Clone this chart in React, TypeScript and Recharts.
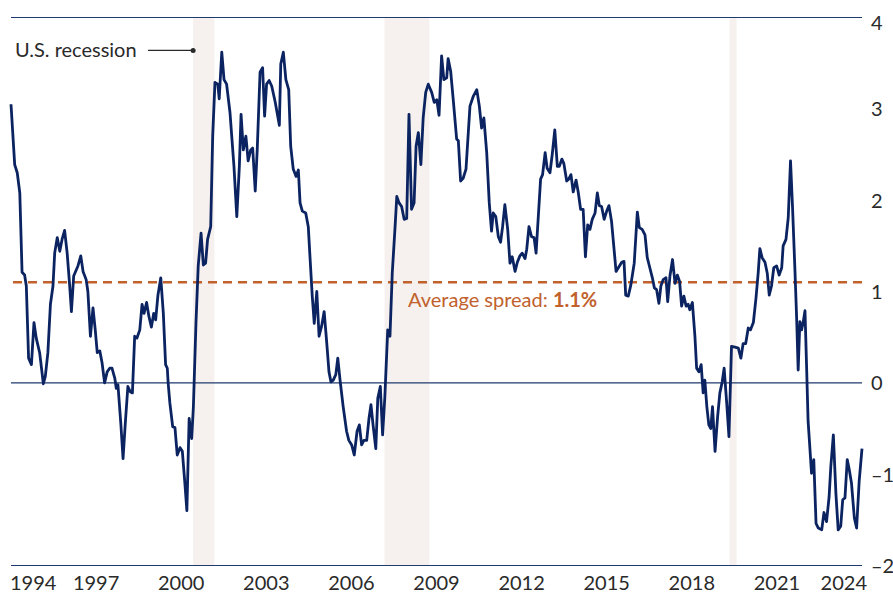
import {
  LineChart,
  Line,
  XAxis,
  YAxis,
  ReferenceArea,
  ReferenceLine,
  ReferenceDot,
} from "recharts";

// [year, spread %], grouped by period
const spread1994to1999: [number, number][] = [
  [1994.75, 3.05], [1994.88, 2.39], [1994.97, 2.3], [1995.06, 2.08], [1995.14, 1.21],
  [1995.23, 1.18], [1995.29, 1.06], [1995.37, 0.27], [1995.47, 0.2], [1995.56, 0.66],
  [1995.64, 0.49], [1995.76, 0.33], [1995.89, -0.01], [1995.96, 0.07], [1996.05, 0.33],
  [1996.14, 0.86], [1996.23, 1.06], [1996.29, 1.42], [1996.38, 1.59], [1996.47, 1.44],
  [1996.55, 1.57], [1996.64, 1.67], [1996.73, 1.42], [1996.82, 1.06], [1996.88, 0.78],
  [1996.96, 1.17], [1997.11, 1.28], [1997.21, 1.39], [1997.29, 1.22], [1997.4, 1.13],
  [1997.46, 1.0], [1997.55, 0.51], [1997.64, 0.82], [1997.72, 0.58], [1997.79, 0.33],
  [1997.88, 0.35], [1997.96, 0.22], [1998.05, 0.0], [1998.14, 0.12], [1998.23, 0.16],
  [1998.31, 0.16], [1998.41, 0.05], [1998.46, -0.06], [1998.52, -0.02], [1998.62, -0.44],
  [1998.7, -0.83], [1998.78, -0.44], [1998.87, -0.04], [1998.96, -0.1], [1999.03, -0.11],
  [1999.11, 0.51], [1999.19, 0.49], [1999.29, 0.58], [1999.37, 0.86], [1999.44, 0.76],
  [1999.53, 0.88], [1999.61, 0.73], [1999.7, 0.61], [1999.78, 0.76], [1999.85, 0.69],
  [1999.93, 0.96],
];

const spread2000to2004: [number, number][] = [
  [2000.03, 1.15], [2000.12, 0.76], [2000.2, 0.2], [2000.26, 0.16], [2000.29, 0.0],
  [2000.35, -0.22], [2000.45, -0.48], [2000.53, -0.49], [2000.61, -0.79], [2000.71, -0.71],
  [2000.79, -0.75], [2000.88, -1.1], [2000.95, -1.4], [2001.03, -0.39], [2001.12, -0.61],
  [2001.18, -0.26], [2001.27, 0.65], [2001.35, 1.28], [2001.45, 1.64], [2001.53, 1.29],
  [2001.61, 1.31], [2001.68, 1.57], [2001.79, 1.71], [2001.86, 2.7], [2001.94, 3.29],
  [2002.04, 3.27], [2002.09, 3.11], [2002.18, 3.62], [2002.26, 3.32], [2002.35, 3.27],
  [2002.47, 2.96], [2002.61, 2.37], [2002.71, 1.82], [2002.8, 2.37], [2002.86, 2.94],
  [2002.94, 2.55], [2003.03, 2.7], [2003.11, 2.43], [2003.2, 2.55], [2003.27, 2.57],
  [2003.36, 2.1], [2003.43, 2.55], [2003.53, 3.4], [2003.62, 3.45], [2003.69, 2.92],
  [2003.76, 3.27], [2003.85, 3.31], [2003.94, 3.25], [2004.06, 3.08], [2004.21, 2.82],
  [2004.26, 3.49], [2004.35, 3.62], [2004.44, 3.32], [2004.54, 3.21], [2004.61, 2.59],
  [2004.7, 2.34], [2004.8, 2.26], [2004.88, 2.33], [2004.94, 1.97],
];

const spread2005to2009: [number, number][] = [
  [2005.02, 1.88], [2005.14, 1.86], [2005.23, 1.71], [2005.29, 1.38], [2005.37, 0.95],
  [2005.44, 0.65], [2005.53, 1.0], [2005.61, 0.51], [2005.7, 0.62], [2005.79, 0.78],
  [2005.88, 0.44], [2005.96, 0.12], [2006.03, 0.01], [2006.11, 0.03], [2006.2, 0.09],
  [2006.27, 0.27], [2006.35, 0.03], [2006.46, -0.26], [2006.58, -0.53], [2006.66, -0.63],
  [2006.76, -0.68], [2006.85, -0.79], [2006.95, -0.53], [2007.03, -0.46], [2007.11, -0.68],
  [2007.19, -0.63], [2007.29, -0.63], [2007.37, -0.39], [2007.44, -0.24], [2007.52, -0.48],
  [2007.61, -0.72], [2007.68, -0.17], [2007.77, -0.04], [2007.85, -0.57], [2007.93, -0.15],
  [2008.03, 0.58], [2008.11, 0.51], [2008.19, 1.2], [2008.29, 1.71], [2008.35, 2.04],
  [2008.43, 1.97], [2008.52, 1.93], [2008.61, 1.79], [2008.7, 1.8], [2008.78, 2.94],
  [2008.87, 1.9], [2008.96, 1.97], [2009.03, 2.59], [2009.11, 2.74], [2009.2, 2.39],
  [2009.28, 2.9], [2009.37, 3.18], [2009.46, 3.27], [2009.58, 3.18], [2009.67, 3.07],
  [2009.76, 3.1], [2009.84, 2.93], [2009.93, 3.58],
];

const spread2010to2014: [number, number][] = [
  [2010.01, 3.32], [2010.11, 3.34], [2010.16, 3.55], [2010.25, 3.41], [2010.34, 3.1],
  [2010.46, 2.67], [2010.52, 2.65], [2010.6, 2.21], [2010.69, 2.24], [2010.79, 2.34],
  [2010.93, 3.03], [2011.05, 3.14], [2011.17, 3.21], [2011.26, 3.03], [2011.34, 2.79],
  [2011.42, 2.9], [2011.52, 2.52], [2011.61, 1.97], [2011.69, 1.66], [2011.75, 1.86],
  [2011.84, 1.82], [2011.93, 1.6], [2012.01, 1.54], [2012.08, 1.71], [2012.16, 1.95],
  [2012.26, 1.68], [2012.34, 1.31], [2012.42, 1.38], [2012.52, 1.22], [2012.6, 1.32],
  [2012.69, 1.39], [2012.77, 1.42], [2012.87, 1.36], [2012.93, 1.46], [2013.01, 1.71],
  [2013.1, 1.6], [2013.19, 1.59], [2013.26, 1.42], [2013.42, 2.23], [2013.49, 2.28],
  [2013.58, 2.52], [2013.65, 2.35], [2013.75, 2.3], [2013.83, 2.5], [2013.92, 2.77],
  [2014.01, 2.37], [2014.08, 2.37], [2014.17, 2.45], [2014.24, 2.4], [2014.34, 2.21],
  [2014.41, 2.23], [2014.49, 2.28], [2014.57, 2.09], [2014.67, 2.22], [2014.75, 2.08],
  [2014.83, 1.9], [2014.92, 1.9],
];

const spread2015to2019: [number, number][] = [
  [2015.0, 1.38], [2015.08, 1.73], [2015.16, 1.68], [2015.24, 1.79], [2015.34, 1.86],
  [2015.42, 2.08], [2015.49, 1.94], [2015.57, 1.93], [2015.66, 1.79], [2015.75, 1.88],
  [2015.83, 1.94], [2015.92, 1.77], [2016.08, 1.22], [2016.16, 1.26], [2016.28, 1.32],
  [2016.36, 1.33], [2016.42, 0.96], [2016.51, 0.95], [2016.6, 1.07], [2016.72, 1.31],
  [2016.83, 1.87], [2016.9, 1.7], [2017.0, 1.68], [2017.1, 1.62], [2017.18, 1.37],
  [2017.27, 1.26], [2017.36, 1.15], [2017.43, 1.04], [2017.51, 1.02], [2017.59, 0.87],
  [2017.66, 1.06], [2017.74, 1.13], [2017.84, 1.15], [2017.9, 0.89], [2017.98, 1.17],
  [2018.07, 1.35], [2018.16, 1.09], [2018.24, 1.18], [2018.32, 1.11], [2018.39, 0.84],
  [2018.47, 0.95], [2018.55, 0.84], [2018.62, 0.86], [2018.68, 0.8], [2018.77, 0.88],
  [2018.86, 0.51], [2018.92, 0.16], [2019.0, 0.12], [2019.08, 0.2], [2019.15, -0.11],
  [2019.21, 0.03], [2019.28, -0.26], [2019.35, -0.46], [2019.42, -0.5], [2019.48, -0.26],
  [2019.57, -0.75], [2019.66, -0.37], [2019.74, -0.11], [2019.82, 0.01], [2019.89, 0.16],
  [2019.98, -0.22],
];

const spread2020to2024: [number, number][] = [
  [2020.06, -0.59], [2020.15, 0.4], [2020.27, 0.39], [2020.39, 0.38], [2020.48, 0.27],
  [2020.56, 0.43], [2020.65, 0.43], [2020.74, 0.6], [2020.82, 0.58], [2020.92, 0.66],
  [2021.01, 0.92], [2021.09, 1.2], [2021.15, 1.47], [2021.23, 1.37], [2021.33, 1.32],
  [2021.41, 1.2], [2021.48, 0.96], [2021.56, 1.06], [2021.64, 1.26], [2021.74, 1.28],
  [2021.83, 1.18], [2021.92, 1.26], [2021.97, 1.5], [2022.07, 1.57], [2022.15, 1.81],
  [2022.23, 2.43], [2022.3, 1.93], [2022.39, 1.2], [2022.45, 0.67], [2022.5, 0.14],
  [2022.56, 0.67], [2022.62, 0.58], [2022.68, 0.67], [2022.74, 0.79], [2022.8, 0.14],
  [2022.85, -0.42], [2022.91, -0.7], [2022.97, -0.99], [2023.05, -0.84], [2023.13, -1.54],
  [2023.21, -1.59], [2023.33, -1.61], [2023.41, -1.42], [2023.5, -1.52], [2023.59, -1.25],
  [2023.65, -0.92], [2023.74, -0.57], [2023.83, -1.21], [2023.91, -1.61], [2024.0, -1.57],
  [2024.07, -1.28], [2024.15, -1.26], [2024.23, -0.84], [2024.3, -0.95], [2024.38, -1.1],
  [2024.48, -1.48], [2024.56, -1.59], [2024.65, -1.08], [2024.75, -0.72],
];

const recessionStarts = [2001.17, 2007.92, 2020.08];
const recessionEnds = [2001.92, 2009.5, 2020.33];

const averageSpread = 1.1;

// series runs October to October, so the year labels sit on each October
const tickYears = [1994, 1997, 2000, 2003, 2006, 2009, 2012, 2015, 2018, 2021, 2024];
const xTicks = tickYears.map((y) => y + 0.75);
const yTicks = [-2, -1, 0, 1, 2, 3, 4];

const NAVY = "#0b2461";
const RULE = "#1f3a6e";
const ORANGE = "#c1612c";
const SHADE = "#f6f1ee";
const TEXT = "#2a2a2a";
const FONT = "Lato, 'Open Sans', sans-serif";
const SIZE = 20;

const data = [
  ...spread1994to1999,
  ...spread2000to2004,
  ...spread2005to2009,
  ...spread2010to2014,
  ...spread2015to2019,
  ...spread2020to2024,
].map(([year, spread]) => ({ year, spread }));

function XTick(props: any) {
  const { x, y, payload } = props;
  const v = payload.value;
  const first = v === xTicks[0];
  const last = v === xTicks[xTicks.length - 1];
  return (
    <text
      x={x + (first ? -1 : last ? 5 : 0)}
      y={y}
      dy={11.5}
      textAnchor={first ? "start" : last ? "end" : "middle"}
      fill={TEXT}
      fontSize={SIZE}
      fontFamily={FONT}
    >
      {Math.floor(v)}
    </text>
  );
}

function YTick(props: any) {
  const { x, y, payload } = props;
  const v = payload.value;
  return (
    <text
      x={x}
      y={y}
      dy={v === 4 ? 12.5 : 7.5}
      textAnchor="start"
      fill={TEXT}
      fontSize={SIZE}
      fontFamily={FONT}
    >
      {v < 0 ? `\u2013${Math.abs(v)}` : `${v}`}
    </text>
  );
}

export default function App() {
  return (
    <div
      style={{
        position: "absolute",
        left: 0,
        top: 0,
        width: 893,
        height: 595,
        background: "#fff",
      }}
    >
      <LineChart
        width={893}
        height={595}
        data={data}
        margin={{ top: 17.5, right: 0, bottom: 0, left: 11 }}
      >
        {recessionStarts.map((start, i) => (
          <ReferenceArea
            key={start}
            x1={start}
            x2={recessionEnds[i]}
            y1={-2}
            y2={4}
            fill={SHADE}
            fillOpacity={1}
            stroke="none"
          />
        ))}
        <XAxis
          type="number"
          dataKey="year"
          domain={[1994.75, 2024.75]}
          ticks={xTicks}
          interval={0}
          height={29.5}
          axisLine={{ stroke: RULE, strokeWidth: 1.2 }}
          tickLine={false}
          tickSize={0}
          tickMargin={13}
          tick={<XTick />}
        />
        <YAxis
          orientation="right"
          domain={[-2, 4]}
          ticks={yTicks}
          width={31}
          axisLine={false}
          tickLine={false}
          tickSize={0}
          tickMargin={9}
          tick={<YTick />}
        />
        <ReferenceLine y={4} stroke={RULE} strokeWidth={1.2} />
        <ReferenceLine y={0} stroke={RULE} strokeWidth={1.2} />
        <ReferenceLine
          y={averageSpread}
          stroke={ORANGE}
          strokeWidth={2.5}
          strokeDasharray="9 6"
          label={({ viewBox }: any) => (
            <text
              x={viewBox.x + 397}
              y={viewBox.y + 25}
              fill={ORANGE}
              fontSize={SIZE}
              fontFamily={FONT}
            >
              Average spread:{" "}
              <tspan fontWeight={700}>{averageSpread.toFixed(1)}%</tspan>
            </text>
          )}
        />
        <ReferenceLine
          segment={[
            { x: 1999.58, y: 3.64 },
            { x: recessionStarts[0], y: 3.64 },
          ]}
          stroke={TEXT}
          strokeWidth={1.2}
        />
        <ReferenceDot
          x={recessionStarts[0]}
          y={3.64}
          r={2.5}
          fill={TEXT}
          stroke="none"
          label={({ viewBox }: any) => (
            <text
              x={viewBox.x - 54}
              y={viewBox.y + 9.5}
              textAnchor="end"
              fill={TEXT}
              fontSize={SIZE}
              fontFamily={FONT}
            >
              U.S. recession
            </text>
          )}
        />
        <Line
          type="linear"
          dataKey="spread"
          stroke={NAVY}
          strokeWidth={2.8}
          strokeLinejoin="round"
          dot={false}
          activeDot={false}
          isAnimationActive={false}
        />
      </LineChart>
    </div>
  );
}
